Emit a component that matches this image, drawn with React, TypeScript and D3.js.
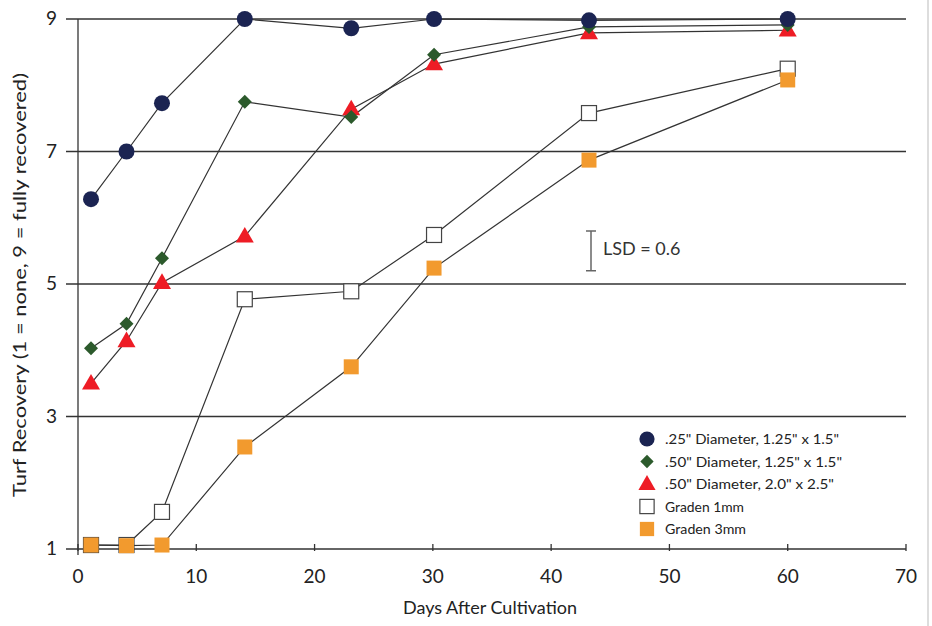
import React from "react";
import * as d3 from "d3";

const days = [1.1, 4.1, 7.1, 14.1, 23.1, 30.1, 43.2, 60];
const navy = [6.28, 7.0, 7.73, 9.0, 8.86, 9.0, 8.98, 9.0];
const green = [4.03, 4.4, 5.39, 7.75, 7.52, 8.46, 8.88, 8.91];
const red = [3.5, 4.14, 5.02, 5.72, 7.64, 8.32, 8.79, 8.83];
const graden1 = [1.06, 1.06, 1.56, 4.77, 4.89, 5.74, 7.58, 8.25];
const graden3 = [1.06, 1.05, 1.06, 2.54, 3.75, 5.24, 6.87, 8.08];

const xTicks = [0, 10, 20, 30, 40, 50, 60, 70];
const yTicks = [1, 3, 5, 7, 9];
const legendLabels = [
  '.25" Diameter, 1.25" x 1.5"',
  '.50" Diameter, 1.25" x 1.5"',
  '.50" Diameter, 2.0" x 2.5"',
  "Graden 1mm",
  "Graden 3mm",
];
const legendWidths = [174, 177, 169, 79, 81];
const lsdCenter = 5.5;
const lsd = 0.6;

const W = 932;
const H = 626;
const x = d3.scaleLinear().domain([0, 70]).range([78, 906]);
const y = d3.scaleLinear().domain([1, 9]).range([549, 19]);

type Kind = "circle" | "diamond" | "triangle" | "square";
const series: { vals: number[]; kind: Kind; fill: string; stroke: string; label: number }[] = [
  { vals: graden1, kind: "square", fill: "#ffffff", stroke: "#444", label: 3 },
  { vals: graden3, kind: "square", fill: "#f29a2e", stroke: "none", label: 4 },
  { vals: red, kind: "triangle", fill: "#ee1c25", stroke: "none", label: 2 },
  { vals: green, kind: "diamond", fill: "#2c5a2c", stroke: "none", label: 1 },
  { vals: navy, kind: "circle", fill: "#1b2452", stroke: "none", label: 0 },
];

function Marker({ kind, cx, cy, fill, stroke, scale = 1 }: { kind: Kind; cx: number; cy: number; fill: string; stroke: string; scale?: number }) {
  if (kind === "circle") return <circle cx={cx} cy={cy} r={8 * scale} fill={fill} />;
  if (kind === "diamond") {
    const r = 7 * scale;
    return <path d={`M${cx},${cy - r}L${cx + r},${cy}L${cx},${cy + r}L${cx - r},${cy}Z`} fill={fill} />;
  }
  if (kind === "triangle") {
    const s = 18 * scale;
    const h = s * 0.866;
    return <path d={`M${cx},${cy - h * 0.6}L${cx + s / 2},${cy + h * 0.4}L${cx - s / 2},${cy + h * 0.4}Z`} fill={fill} />;
  }
  const s = 15 * scale;
  return <rect x={cx - s / 2} y={cy - s / 2} width={s} height={s} fill={fill} stroke={stroke} strokeWidth={stroke === "none" ? 0 : 1.2} />;
}

export default function App() {
  const line = d3.line<number>().x((_, i) => x(days[i])).y((v) => y(v));
  const font = "Lato, 'Open Sans', sans-serif";
  const lsdTop = y(lsdCenter + lsd / 2);
  const lsdBot = y(lsdCenter - lsd / 2);
  return (
    <svg width={W} height={H} style={{ position: "absolute", left: 0, top: 0, background: "#fff" }} fontFamily={font}>
      <rect x={0} y={0} width={W} height={H} fill="#fff" />
      <line x1={928} x2={928} y1={0} y2={H} stroke="#ddd" strokeWidth={2} />
      {yTicks.filter((t) => t > 1).map((t) => (
        <line key={t} x1={66} x2={x(70)} y1={y(t)} y2={y(t)} stroke="#333" strokeWidth={1.3} />
      ))}
      <line x1={66} x2={x(70)} y1={y(1)} y2={y(1)} stroke="#333" strokeWidth={1.3} />
      <line x1={x(0)} x2={x(0)} y1={y(9)} y2={y(1) + 6} stroke="#333" strokeWidth={1.3} />
      {xTicks.map((t) => (
        <line key={t} x1={x(t)} x2={x(t)} y1={y(1) - 5} y2={y(1) + 2} stroke="#333" strokeWidth={1.3} />
      ))}
      {yTicks.map((t) => (
        <text key={t} x={57} y={y(t) + 6} textAnchor="end" fontSize={19} fill="#222">{t}</text>
      ))}
      {xTicks.map((t) => (
        <text key={t} x={x(t)} y={583} textAnchor="middle" fontSize={19} fill="#222">{t}</text>
      ))}
      <text x={490} y={614} textAnchor="middle" fontSize={18} fill="#222">Days After Cultivation</text>
      <text transform={`translate(26,285) rotate(-90)`} textAnchor="middle" fontSize={18} fill="#222" textLength={424} lengthAdjust="spacingAndGlyphs">
        Turf Recovery (1 = none, 9 = fully recovered)
      </text>
      {series.map((s, i) => (
        <path key={i} d={line(s.vals) || ""} fill="none" stroke="#333" strokeWidth={1.2} />
      ))}
      {series.map((s, i) => (
        <g key={i}>
          {s.vals.map((v, j) => (
            <Marker key={j} kind={s.kind} cx={x(days[j])} cy={y(v)} fill={s.fill} stroke={s.stroke} />
          ))}
        </g>
      ))}
      <g stroke="#666" strokeWidth={1.5}>
        <line x1={591} x2={591} y1={lsdTop} y2={lsdBot} />
        <line x1={586} x2={596} y1={lsdTop} y2={lsdTop} />
        <line x1={586} x2={596} y1={lsdBot} y2={lsdBot} />
      </g>
      <text x={603} y={255} fontSize={18} fill="#333">LSD = 0.6</text>
      {legendLabels.map((lab, i) => {
        const s = series.find((q) => q.label === i)!;
        const cy = 439 + i * 22.5;
        return (
          <g key={i}>
            <Marker kind={s.kind} cx={647} cy={cy} fill={s.fill} stroke={s.stroke} scale={0.95} />
            <text x={665} y={cy + 5} fontSize={14} fill="#222" textLength={legendWidths[i]} lengthAdjust="spacingAndGlyphs">{lab}</text>
          </g>
        );
      })}
    </svg>
  );
}
